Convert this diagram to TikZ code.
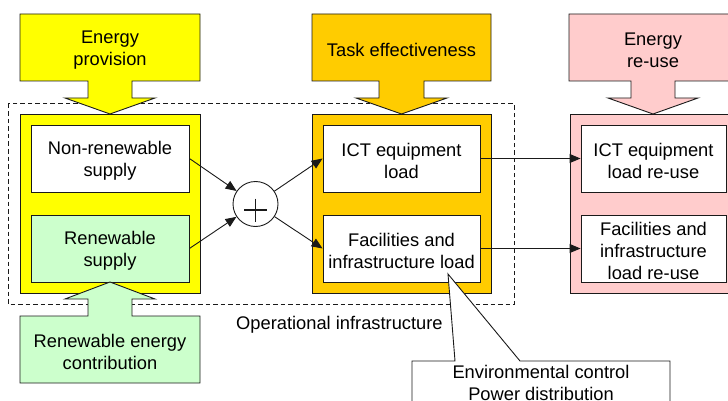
\documentclass[tikz,border=0pt]{standalone}
\usepackage{fontspec}
\setmainfont{Liberation Sans}
\usetikzlibrary{calc,arrows.meta}
\definecolor{cyellow}{HTML}{FFFF00}
\definecolor{corange}{HTML}{FFCC00}
\definecolor{cpink}{HTML}{FFCCCC}
\definecolor{cgreen}{HTML}{CCFFCC}
\definecolor{cline}{HTML}{1A1A1A}
\begin{document}
\begin{tikzpicture}[x=1pt,y=-1pt,
  every node/.style={font=\fontsize{18.3}{21.6}\selectfont, align=center, inner sep=0pt},
  lbl/.style={yshift=-2.5pt},
  box/.style={draw=cline, line width=0.9pt, rectangle, minimum height=67pt},
  txtbox/.style={box, text depth=0pt},
  outerbox/.style={draw=cline, line width=0.9pt, rectangle, minimum height=179pt},
  callout/.style={draw=cline, line width=0.9pt, line join=miter},
  arr/.style={-{Triangle[length=11pt,width=9pt]}, line width=0.9pt, draw=cline},
  opframe/.style={draw=cline, line width=1pt, dash pattern=on 4.5pt off 3pt},
  ]
\useasboundingbox (0,0) rectangle (728,401);
\clip (0,0) rectangle (728,401);

% operational infrastructure frame
\draw[opframe] (8,104) rectangle (514,304);

% outer columns
\node[outerbox, fill=cyellow, minimum width=180pt] (prov) at (110,203.5) {};
\node[outerbox, fill=corange, minimum width=179pt] (task) at (401.5,203.5) {};
\node[outerbox, fill=cpink, minimum width=167pt] (reuse) at (653.5,203.5) {};

% inner boxes
\node[box, fill=white, minimum width=158pt] (nonren) at (110,158.5) {};
\node[box, fill=cgreen, minimum width=158pt] (ren) at (110,248.5) {};
\node[box, fill=white, minimum width=157pt] (ict) at (401.5,158.5) {};
\node[box, fill=white, minimum width=157pt] (fac) at (401.5,248.5) {};
\node[box, fill=white, minimum width=145pt] (ictre) at (653.5,158.5) {};
\node[box, fill=white, minimum width=145pt] (facre) at (653.5,248.5) {};
\node[lbl] (nonrent) at (nonren) {Non-renewable\\supply};
\node[lbl] (rent) at (ren) {Renewable\\supply};
\node[lbl] (ictt) at (ict) {ICT equipment\\load};
\node[lbl] (fact) at (fac) {Facilities and\\infrastructure load};
\node[lbl] (ictret) at (ictre) {ICT equipment\\load re-use};
\node[lbl] (facret) at (facre) {Facilities and\\infrastructure\\load re-use};

% summing junction
\node[draw=cline, circle, line width=0.9pt, minimum size=45pt, fill=white] (sum) at (255.5,204) {};
\draw[line width=1.2pt, draw=cline] ($(sum.center)+(-11.5,6)$) -- ++(23,0);
\draw[line width=1.2pt, draw=cline] ($(sum.center)+(0,-5.5)$) -- ++(0,23);

% connectors
\draw[arr] (nonren.east) -- (sum);
\draw[arr] (ren.east) -- (sum);
\draw[arr] (sum) -- (ict.west);
\draw[arr] (sum) -- (fac.west);
\draw[arr] (ict.east) -- (ictre.west);
\draw[arr] (fac.east) -- (facre.west);

% callout arrows
\draw[callout, fill=cyellow] (20,14) -- ++(180,0) -- ++(0,67) -- ++(-68,0) -- ++(0,17) -- ++(23,0)
  -- ++(-45,16) -- ++(-45,-16) -- ++(23,0) -- ++(0,-17) -- ++(-68,0) -- cycle;
\node[lbl] (eprov) at (110,47.5) {Energy\\provision};

\draw[callout, fill=corange] (312,14) -- ++(179,0) -- ++(0,67) -- ++(-67,0) -- ++(0,17) -- ++(23,0)
  -- ++(-45.5,16) -- ++(-45.5,-16) -- ++(23,0) -- ++(0,-17) -- ++(-67,0) -- cycle;
\node[lbl] (teff) at (401.5,47.5) {Task effectiveness};

\draw[callout, fill=cpink] (569,14) -- ++(168,0) -- ++(0,67) -- ++(-62,0) -- ++(0,17) -- ++(23,0)
  -- ++(-45,16) -- ++(-45,-16) -- ++(23,0) -- ++(0,-17) -- ++(-62,0) -- cycle;
\node[lbl] (ereuse) at (653,47.5) {Energy\\re-use};

\draw[callout, fill=cgreen] (20,383) -- ++(180,0) -- ++(0,-67) -- ++(-68,0) -- ++(0,-17) -- ++(23,0)
  -- ++(-45,-17) -- ++(-45,17) -- ++(23,0) -- ++(0,17) -- ++(-68,0) -- cycle;
\node[lbl] (rcontrib) at (110,349.5) {Renewable energy\\contribution};

% frame label
\node[anchor=base west] (oplabel) at (236,329) {Operational infrastructure};

% bottom callout
\coordinate (tip) at (448,274);
\draw[callout, fill=white] (412,412) -- (412,361) -- (455,361) -- (tip) -- (520,361) -- (670,361) -- (670,412);
\node (env) at (541,383) {Environmental control\\Power distribution};
\end{tikzpicture}
\end{document}
